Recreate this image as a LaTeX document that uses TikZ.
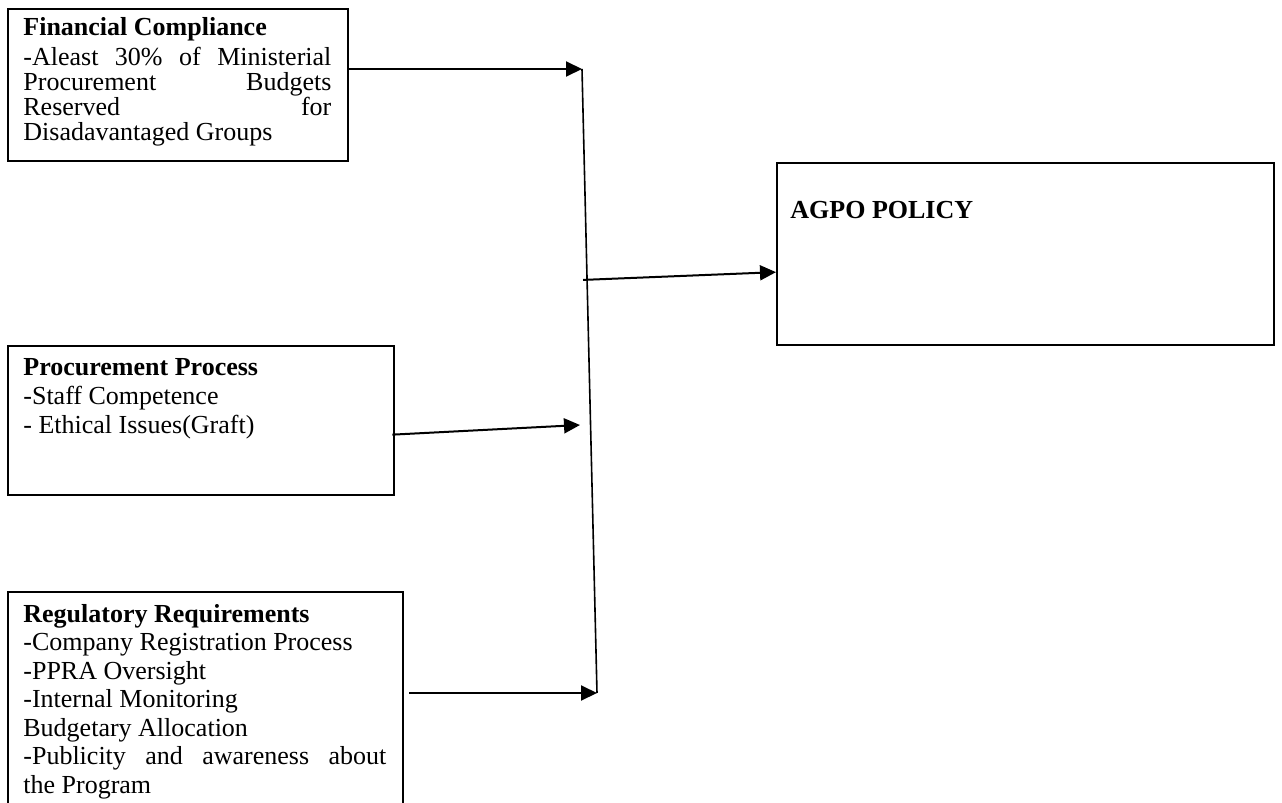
\documentclass[tikz,border=0pt]{standalone}
\usepackage{fontspec}
\setmainfont{Liberation Serif}
\usepackage{tikz}
\usetikzlibrary{arrows.meta,calc}
\setlength{\parindent}{0pt}

\tikzset{
  frame/.style={draw,line width=1.15pt,inner sep=0pt,anchor=north west},
  boxtext/.style={anchor=north west,inner sep=0pt,align=justify,
    font=\fontsize{13}{14.3}\selectfont},
  link/.style={line width=1pt}
}

\begin{document}
\begin{tikzpicture}[x=0.5pt,y=-0.5pt,>={Triangle[length=8pt,width=7.5pt]}]
\useasboundingbox (0,0) rectangle (1282,803);
\clip (0,0) rectangle (1282,803);

% Boxes
\node[frame,minimum width=170pt,minimum height=76pt] (fin) at (7,8) {};
\node[frame,minimum width=248.5pt,minimum height=91pt] (agpo) at (776,162) {};
\node[frame,minimum width=193pt,minimum height=74.5pt] (proc) at (7,345) {};
\node[frame,minimum width=197.5pt,minimum height=130pt] (reg) at (7,591) {};

% Texts
\node[boxtext,text width=154pt,font=\fontsize{13}{12.5}\selectfont] (fintext)
  at ([shift={(16,9)}]fin.north west)
  {\textbf{Financial Compliance}\\[2.5pt]
   -Aleast 30\% of Ministerial\linebreak Procurement Budgets\linebreak
   Reserved for\linebreak Disadavantaged Groups};
\node[boxtext,text width=200pt] (agpotext) at ([shift={(14,39)}]agpo.north west)
  {\textbf{AGPO POLICY}};
\node[boxtext,text width=177pt,font=\fontsize{13}{14.5}\selectfont] (proctext)
  at ([shift={(16,13)}]proc.north west)
  {\textbf{Procurement Process}\\
   -Staff Competence\\
   - Ethical Issues(Graft)};
\node[boxtext,text width=181.5pt,font=\fontsize{13}{14.25}\selectfont] (regtext)
  at ([shift={(16,13)}]reg.north west)
  {\textbf{Regulatory Requirements}\\
   -Company Registration Process\\
   -PPRA Oversight\\
   -Internal Monitoring\\
   Budgetary Allocation\\
   -Publicity and awareness about\linebreak the Program};

% Spine
\coordinate (top) at (582,69);
\coordinate (bot) at (597,693);
\coordinate (procin) at (580,425);
\draw[line width=0.8pt] (top) -- (bot);

% Arrows
\draw[link,->] (fin.east |- top) -- (top);
\draw[link,->] ([shift={(-3,14)}]proc.east) -- (procin);
\draw[link,->] ([xshift=2.5pt]reg.east |- bot) -- (bot);
\draw[link,->] ($(top)!0.338!(bot)+(-4,0)$) -- ([yshift=-9pt]agpo.west);

\end{tikzpicture}
\end{document}
